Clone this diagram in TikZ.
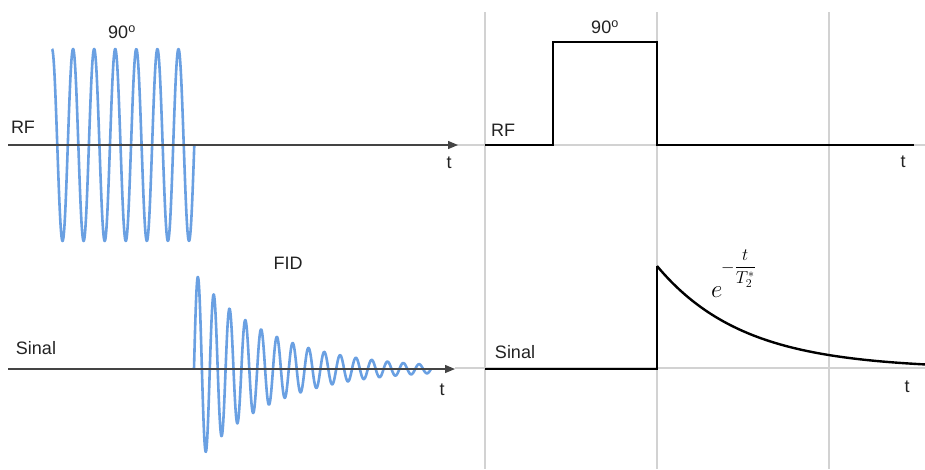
\documentclass[tikz,border=0pt]{standalone}
\usepackage{fontspec}
\setmainfont{Liberation Sans}
\usetikzlibrary{arrows.meta}
\definecolor{wave}{RGB}{106,160,226}
\definecolor{axisc}{RGB}{68,68,68}
\definecolor{gridc}{RGB}{210,210,210}
\definecolor{txt}{RGB}{34,34,34}
\begin{document}
\begin{tikzpicture}[x=1pt,y=-1pt,
  lbl/.style={inner sep=0pt,text=txt,font=\fontsize{18}{20}\selectfont},
  axisline/.style={draw=axisc,line width=1.3pt,-{Triangle[length=10pt,width=8pt]}},
  gridline/.style={draw=gridc,line width=1.4pt},
  sig/.style={draw=wave,line width=2.6pt,line join=round},
  pulse/.style={draw=black,line width=2.4pt,line join=miter}]
\useasboundingbox (0,0) rectangle (925,469);
% grid of right panel
\coordinate (h1s) at (455,145); \coordinate (h1e) at (925,145);
\coordinate (h2s) at (455,368); \coordinate (h2e) at (925,368);
\coordinate (v1s) at (485,12); \coordinate (v1e) at (485,469);
\coordinate (v2s) at (657,12); \coordinate (v2e) at (657,469);
\coordinate (v3s) at (829,12); \coordinate (v3e) at (829,469);
\draw[gridline] (h1s) -- (h1e);
\draw[gridline] (h2s) -- (h2e);
\draw[gridline] (v1s) -- (v1e);
\draw[gridline] (v2s) -- (v2e);
\draw[gridline] (v3s) -- (v3e);
% left waves
\draw[sig] plot[domain=52:194.3,samples=500] (\x,{145-96*cos((\x-52)/21.08*360)});
\draw[sig] plot[domain=194:431,samples=700] (\x,{369-97*exp(-(\x-194)/75)*sin((\x-194)/15.8*360)});
% left axes
\coordinate (a1s) at (8,145); \coordinate (a1e) at (458,145);
\coordinate (a2s) at (8,369); \coordinate (a2e) at (455,369);
\draw[axisline] (a1s) -- (a1e);
\draw[axisline] (a2s) -- (a2e);
% right pulse
\coordinate (p0) at (485,145); \coordinate (p1) at (553,145);
\coordinate (p2) at (553,42); \coordinate (p3) at (657,42);
\coordinate (p4) at (657,145); \coordinate (p5) at (914,145);
\draw[pulse] (p0) -- (p1) -- (p2) -- (p3) -- (p4) -- (p5);
% right signal
\coordinate (q0) at (485,369); \coordinate (q1) at (657,369); \coordinate (q2) at (657,266);
\draw[pulse] (q0) -- (q1) -- (q2);
\draw[pulse,line join=round] plot[domain=657:925,samples=200] (\x,{369-103*exp(-(\x-657)/86)});
% labels
\node[lbl] (deg1) at (122,32) {90\textsuperscript{o}};
\node[lbl] (rf1) at (23,127) {RF};
\node[lbl] (t1) at (449,163) {t};
\node[lbl] (fid) at (288,263) {FID};
\node[lbl] (sin1) at (36,348) {Sinal};
\node[lbl] (t2) at (442,390) {t};
\node[lbl] (deg2) at (605,27) {90\textsuperscript{o}};
\node[lbl] (rf2) at (503,130) {RF};
\node[lbl] (t3) at (903,162) {t};
\node[lbl] (sin2) at (515,352) {Sinal};
\node[lbl] (t4) at (907,387) {t};
\node[inner sep=0pt,anchor=base west,font=\fontsize{29}{32}\selectfont] (ebase) at (711,297) {$e$};
\node[inner sep=0pt,anchor=base west,font=\fontsize{18}{20}\selectfont] (expo) at (721,272)
  {$\displaystyle -\frac{t}{T_2^*}$};
\end{tikzpicture}
\end{document}
